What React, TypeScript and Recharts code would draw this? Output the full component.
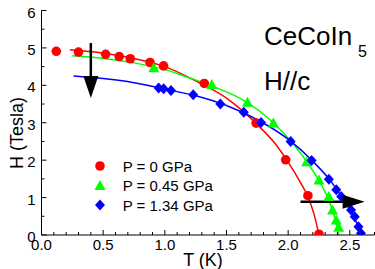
import { ComposedChart, Line, Scatter, XAxis, YAxis, ReferenceLine, ReferenceDot } from "recharts"

const FONT = "Arial, 'Liberation Sans', sans-serif"

// measured points, T in K, H in Tesla
const p0T = [0.12, 0.3, 0.52, 0.63, 0.72, 0.88, 0.99, 1.32, 1.74, 1.98, 2.16, 2.25]
const p0H = [4.91, 4.89, 4.83, 4.77, 4.71, 4.61, 4.52, 4.05, 2.99, 2.01, 1.05, 0.02]

const p045T = [0.91, 1.38, 1.67, 1.88, 2.15, 2.25, 2.33, 2.36, 2.39, 2.41]
const p045H = [4.47, 4.02, 3.55, 2.99, 1.96, 1.47, 1.03, 0.67, 0.4, 0.21]

const p134T = [0.95, 0.99, 1.05, 1.23, 1.45, 1.64, 1.78, 2.02, 2.19, 2.33, 2.39, 2.43, 2.51, 2.54, 2.57, 2.59]
const p134H = [3.93, 3.91, 3.86, 3.75, 3.5, 3.28, 3.01, 2.5, 1.99, 1.49, 1.21, 1.03, 0.67, 0.49, 0.22, 0.05]

// fit curves
const fit0T = [0.23, 0.5, 0.75, 1.0, 1.25, 1.5, 1.75, 1.9, 2.0, 2.1, 2.16, 2.21, 2.25]
const fit0H = [4.95, 4.86, 4.72, 4.5, 4.12, 3.66, 2.95, 2.42, 1.95, 1.4, 1.02, 0.55, 0]

const fit045T = [0.25, 0.5, 0.75, 1.0, 1.2, 1.4, 1.65, 1.88, 2.05, 2.15, 2.25, 2.32, 2.37, 2.41]
const fit045H = [4.79, 4.72, 4.6, 4.42, 4.2, 3.96, 3.58, 3.0, 2.4, 1.96, 1.45, 1.0, 0.55, 0]

const fit134T = [0.26, 0.5, 0.75, 1.0, 1.25, 1.5, 1.75, 2.0, 2.2, 2.35, 2.45, 2.53, 2.6]
const fit134H = [4.25, 4.18, 4.07, 3.9, 3.72, 3.46, 3.08, 2.56, 1.97, 1.42, 0.94, 0.5, 0]

// arrows (start, tip)
const downArrow = [{ T: 0.4, H: 5.13 }, { T: 0.4, H: 3.66 }]
const rightArrow = [{ T: 2.1, H: 0.89 }, { T: 2.62, H: 0.89 }]

const legendLabels = ["P = 0 GPa", "P = 0.45 GPa", "P = 1.34 GPa"]
const xLabels = [0, 0.5, 1.0, 1.5, 2.0, 2.5]
const yLabels = [0, 1, 2, 3, 4, 5, 6]

const xTicks = Array.from({ length: 28 }, (_, i) => +(i * 0.1).toFixed(1))
const yTicks = Array.from({ length: 13 }, (_, i) => i * 0.5)

const zip = (t: number[], h: number[]) => t.map((T, i) => ({ T, H: h[i] }))

const RED = "#ff0000"
const GREEN = "#00ff00"
const BLUE = "#0000ff"

const isOn = (v: number, list: number[]) => list.some((l) => Math.abs(l - v) < 1e-6)

const circle = (cx: number, cy: number) => <circle cx={cx} cy={cy} r={4.8} fill={RED} />
const triangle = (cx: number, cy: number) => (
  <polygon points={`${cx},${cy - 5.5} ${cx - 5.5},${cy + 4.5} ${cx + 5.5},${cy + 4.5}`} fill={GREEN} />
)
const diamond = (cx: number, cy: number) => (
  <polygon points={`${cx},${cy - 5.5} ${cx + 5},${cy} ${cx},${cy + 5.5} ${cx - 5},${cy}`} fill={BLUE} />
)

function BottomTick({ x, y, payload }: any) {
  const major = isOn(payload.value, xLabels)
  return (
    <g>
      <line x1={x} y1={y} x2={x} y2={y - (major ? 5 : 3)} stroke="#000" />
      {major && (
        <text x={x} y={y + 15} textAnchor="middle" fontSize={15} fontFamily={FONT} fill="#000">
          {payload.value.toFixed(1)}
        </text>
      )}
    </g>
  )
}

function TopTick({ x, y, payload }: any) {
  const major = isOn(payload.value, xLabels)
  return <line x1={x} y1={y} x2={x} y2={y + (major ? 5 : 3)} stroke="#000" />
}

function LeftTick({ x, y, payload }: any) {
  const major = isOn(payload.value, yLabels)
  return (
    <g>
      <line x1={x} y1={y} x2={x + (major ? 5 : 3)} y2={y} stroke="#000" />
      {major && (
        <text x={x - 6} y={y + 7} textAnchor="end" fontSize={15} fontFamily={FONT} fill="#000">
          {payload.value}
        </text>
      )}
    </g>
  )
}

function RightTick({ x, y, payload }: any) {
  const major = isOn(payload.value, yLabels)
  return <line x1={x} y1={y} x2={x - (major ? 5 : 3)} y2={y} stroke="#000" />
}

const arrowDown = ({ cx, cy }: any) => (
  <polygon points={`${cx},${cy} ${cx - 7.5},${cy - 22} ${cx + 7.5},${cy - 22}`} fill="#000" />
)
const arrowRight = ({ cx, cy }: any) => (
  <polygon points={`${cx},${cy} ${cx - 22},${cy - 7} ${cx - 22},${cy + 7}`} fill="#000" />
)

export default function App() {
  const markers = [circle, triangle, diamond]
  return (
    <div style={{ position: "absolute", left: 0, top: 0, width: 375, height: 269, background: "#fff" }}>
      <ComposedChart width={375} height={269} margin={{ top: 10.5, right: 0.5, bottom: 0, left: 0 }}>
        <XAxis
          xAxisId="b"
          dataKey="T"
          type="number"
          domain={[0, 2.7]}
          ticks={xTicks}
          interval={0}
          height={34}
          tickSize={0}
          tickMargin={0}
          tickLine={false}
          tick={BottomTick}
          axisLine={{ stroke: "#000" }}
          allowDataOverflow
        />
        <XAxis
          xAxisId="t"
          orientation="top"
          dataKey="T"
          type="number"
          domain={[0, 2.7]}
          ticks={xTicks}
          interval={0}
          height={0}
          tickSize={0}
          tickMargin={0}
          tickLine={false}
          tick={TopTick}
          axisLine={{ stroke: "#000" }}
          allowDataOverflow
        />
        <YAxis
          yAxisId="l"
          dataKey="H"
          type="number"
          domain={[0, 6]}
          ticks={yTicks}
          interval={0}
          width={41.5}
          tickSize={0}
          tickMargin={0}
          tickLine={false}
          tick={LeftTick}
          axisLine={{ stroke: "#000" }}
          allowDataOverflow
        />
        <YAxis
          yAxisId="r"
          orientation="right"
          dataKey="H"
          type="number"
          domain={[0, 6]}
          ticks={yTicks}
          interval={0}
          width={0}
          tickSize={0}
          tickMargin={0}
          tickLine={false}
          tick={RightTick}
          axisLine={{ stroke: "#000" }}
          allowDataOverflow
        />

        <Line xAxisId="b" yAxisId="l" data={zip(fit0T, fit0H)} dataKey="H" type="monotone" stroke={RED} strokeWidth={1.5} dot={false} activeDot={false} isAnimationActive={false} />
        <Line xAxisId="b" yAxisId="l" data={zip(fit045T, fit045H)} dataKey="H" type="monotone" stroke={GREEN} strokeWidth={1.5} dot={false} activeDot={false} isAnimationActive={false} />
        <Line xAxisId="b" yAxisId="l" data={zip(fit134T, fit134H)} dataKey="H" type="monotone" stroke={BLUE} strokeWidth={1.5} dot={false} activeDot={false} isAnimationActive={false} />

        <Scatter xAxisId="b" yAxisId="l" data={zip(p0T, p0H)} dataKey="H" shape={(p: any) => circle(p.cx, p.cy)} isAnimationActive={false} />
        <Scatter xAxisId="b" yAxisId="l" data={zip(p045T, p045H)} dataKey="H" shape={(p: any) => triangle(p.cx, p.cy)} isAnimationActive={false} />
        <Scatter xAxisId="b" yAxisId="l" data={zip(p134T, p134H)} dataKey="H" shape={(p: any) => diamond(p.cx, p.cy)} isAnimationActive={false} />

        <ReferenceLine xAxisId="b" yAxisId="l" segment={[{ x: downArrow[0].T, y: downArrow[0].H }, { x: downArrow[1].T, y: downArrow[1].H + 0.3 }]} stroke="#000" strokeWidth={2.5} />
        <ReferenceDot xAxisId="b" yAxisId="l" x={downArrow[1].T} y={downArrow[1].H} shape={arrowDown} />
        <ReferenceLine xAxisId="b" yAxisId="l" segment={[{ x: rightArrow[0].T, y: rightArrow[0].H }, { x: rightArrow[1].T - 0.1, y: rightArrow[1].H }]} stroke="#000" strokeWidth={2.5} />
        <ReferenceDot xAxisId="b" yAxisId="l" x={rightArrow[1].T} y={rightArrow[1].H} shape={arrowRight} />
      </ComposedChart>

      <svg width={375} height={269} style={{ position: "absolute", left: 0, top: 0, pointerEvents: "none" }} fontFamily={FONT}>
        <text x={264} y={45} fontSize={26} fill="#000">CeCoIn</text>
        <text x={358} y={57} fontSize={16} fill="#000">5</text>
        <text x={264} y={90} fontSize={26} fill="#000">H//c</text>
        <text x={203} y={266} fontSize={18} textAnchor="middle" fill="#000">T (K)</text>
        <text x={23} y={133} fontSize={18} textAnchor="middle" fill="#000" transform="rotate(-90, 23, 133)">H (Tesla)</text>
        {legendLabels.map((label, i) => (
          <g key={label}>
            {markers[i](100, 166 + i * 19.5)}
            <text x={122.7} y={171.5 + i * 19.5} fontSize={15} fill="#000">{label}</text>
          </g>
        ))}
      </svg>
    </div>
  )
}
